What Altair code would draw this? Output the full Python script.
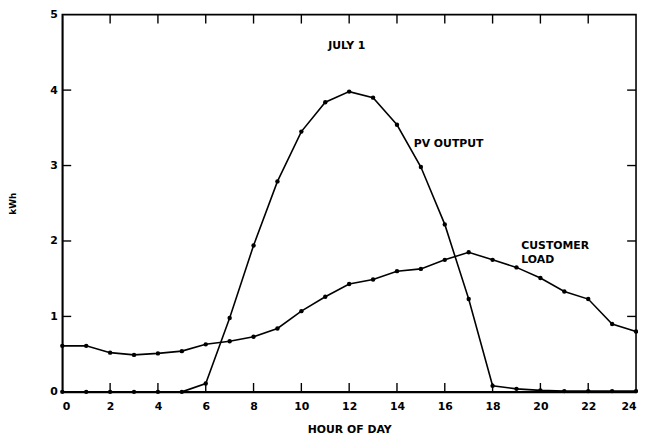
import altair as alt
import pandas as pd

hours = list(range(25))
pv_output = [0.0, 0.0, 0.0, 0.0, 0.0, 0.0, 0.11, 0.98, 1.94, 2.79, 3.45, 3.84, 3.98, 3.9, 3.54,
             2.98, 2.22, 1.23, 0.08, 0.04, 0.02, 0.01, 0.01, 0.01, 0.01]
customer_load = [0.61, 0.61, 0.52, 0.49, 0.51, 0.54, 0.63, 0.67, 0.73, 0.84, 1.07, 1.26, 1.43,
                 1.49, 1.6, 1.63, 1.75, 1.85, 1.75, 1.65, 1.51, 1.33, 1.23, 0.9, 0.8]
x_ticks = [2, 4, 6, 8, 10, 12, 14, 16, 18, 20, 22]
y_ticks = [1, 2, 3, 4]

notes_text = ["JULY 1", "PV OUTPUT", "CUSTOMER", "LOAD"]
notes_x = [11.9, 14.7, 19.2, 19.2]
notes_y = [4.59, 3.28, 1.93, 1.75]
notes_align = ["center", "left", "left", "left"]

W, H = 581, 382
FONT = "DejaVu Sans"

df = pd.DataFrame({
    "hour": hours * 2,
    "kwh": pv_output + customer_load,
    "series": ["PV"] * 25 + ["LOAD"] * 25,
})

xs = alt.Scale(domain=[0, 24], nice=False, zero=False)
ys = alt.Scale(domain=[0, 5], nice=False)

base = alt.Chart(df)

lines = base.mark_line(color="black", strokeWidth=1.6).encode(
    x=alt.X("hour:Q", scale=xs,
            axis=alt.Axis(values=list(range(0, 25, 2)), format="d", ticks=False, grid=False,
                          title="HOUR OF DAY", labelPadding=9, titlePadding=12,
                          domainColor="black", domainWidth=1.6)),
    y=alt.Y("kwh:Q", scale=ys,
            axis=alt.Axis(values=[0, 1, 2, 3, 4, 5], format="d", ticks=False, grid=False,
                          title="kWh", labelPadding=5, titlePadding=33,
                          domainColor="black", domainWidth=1.6)),
    detail="series:N",
)
points = base.mark_circle(color="black", size=20, opacity=1).encode(
    x=alt.X("hour:Q", scale=xs), y=alt.Y("kwh:Q", scale=ys)
)

xt = alt.Chart(pd.DataFrame({"t": x_ticks}))
top_ticks = xt.mark_rule(color="black", strokeWidth=1.4).encode(
    x=alt.X("t:Q", scale=xs), y=alt.value(0), y2=alt.value(9))
bottom_ticks = xt.mark_rule(color="black", strokeWidth=1.4).encode(
    x=alt.X("t:Q", scale=xs), y=alt.value(H), y2=alt.value(H - 9))

yt = alt.Chart(pd.DataFrame({"t": y_ticks}))
left_ticks = yt.mark_rule(color="black", strokeWidth=1.4).encode(
    y=alt.Y("t:Q", scale=ys), x=alt.value(0), x2=alt.value(9))
right_ticks = yt.mark_rule(color="black", strokeWidth=1.4).encode(
    y=alt.Y("t:Q", scale=ys), x=alt.value(W), x2=alt.value(W - 9))

notes_df = pd.DataFrame({"text": notes_text, "x": notes_x, "y": notes_y, "align": notes_align})
notes_center = alt.Chart(notes_df[notes_df["align"] == "center"]).mark_text(
    font=FONT, fontWeight="bold", fontSize=11, align="center", baseline="middle", color="black"
).encode(x=alt.X("x:Q", scale=xs), y=alt.Y("y:Q", scale=ys), text="text:N")
notes_left = alt.Chart(notes_df[notes_df["align"] == "left"]).mark_text(
    font=FONT, fontWeight="bold", fontSize=11, align="left", baseline="middle", color="black"
).encode(x=alt.X("x:Q", scale=xs), y=alt.Y("y:Q", scale=ys), text="text:N")

chart = alt.layer(lines, points, top_ticks, bottom_ticks, left_ticks, right_ticks,
                  notes_center, notes_left).properties(
    width=W, height=H, autosize="none",
    padding={"left": 55, "top": 4, "right": 2, "bottom": 46},
).configure_view(stroke="black", strokeWidth=1.6).configure_axis(
    labelFont=FONT, labelFontWeight="bold", labelFontSize=11, labelColor="black",
    titleFont=FONT, titleFontWeight="bold", titleFontSize=11, titleColor="black",
).configure_axisY(titleFontSize=9, titleFontWeight="bold")

chart.save("out.html", embed_options={"renderer": "svg", "actions": False})
